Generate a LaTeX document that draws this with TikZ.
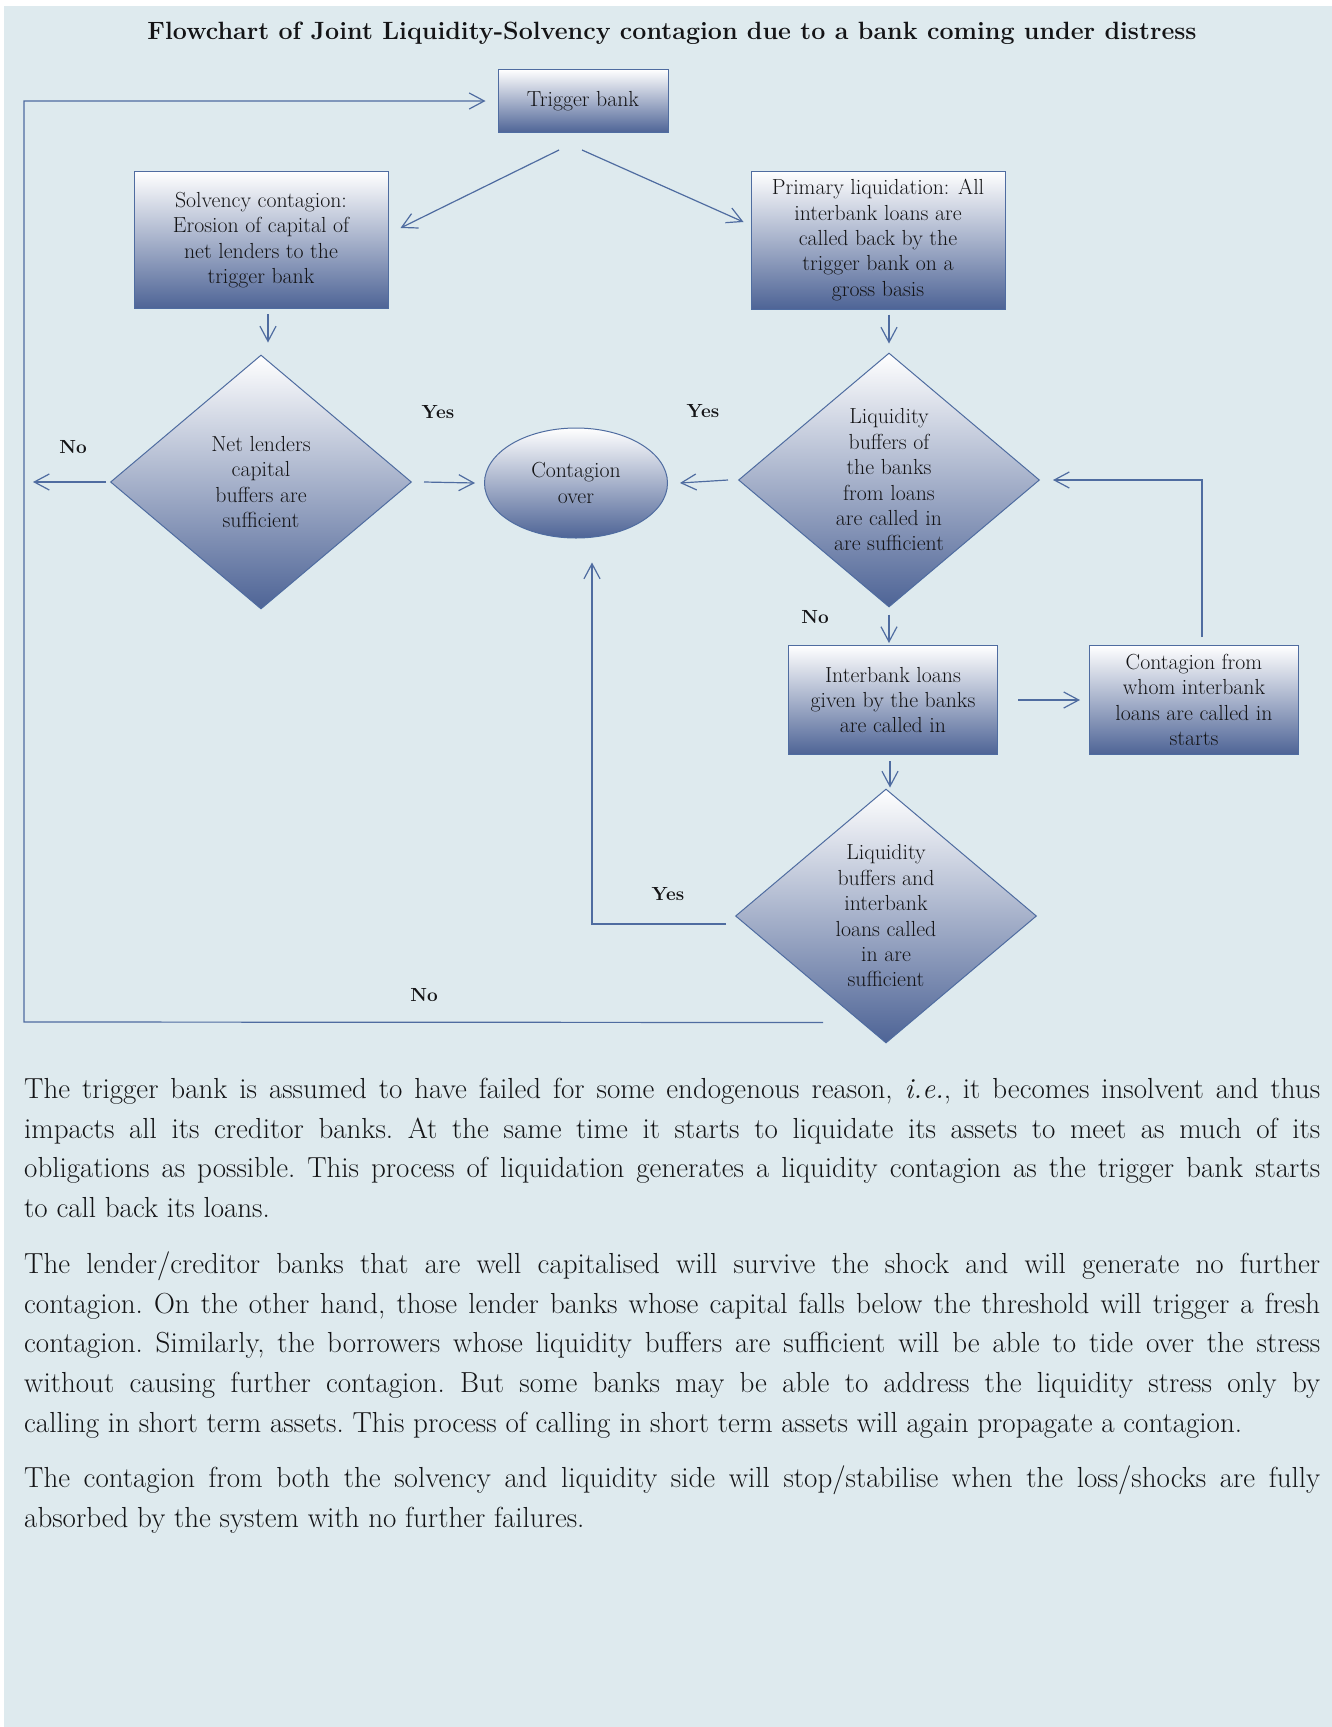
\documentclass[tikz,border=0pt]{standalone}
\usepackage{fontspec}
\usepackage{tikz}
\usetikzlibrary{positioning, shapes.geometric, arrows.meta}
\definecolor{PanelBlue}{RGB}{222, 234, 238}
\definecolor{LineBlue}{RGB}{79, 108, 160}
\definecolor{NodeBlue}{RGB}{78, 100, 150}
\definecolor{InkGray}{RGB}{20, 20, 22}

\begin{document}
\begin{tikzpicture}[
    x=1pt, y=-1pt,
    every node/.style={align=center, text=InkGray},
    nodetext/.style={font=\fontsize{21.8}{25.4}\selectfont},
    box/.style={nodetext, draw=LineBlue, line width=1pt, rectangle, top color=white, bottom color=NodeBlue, inner sep=4pt},
    decision/.style={nodetext, draw=LineBlue, line width=1pt, diamond, shape aspect=1.185, minimum width=301pt, minimum height=254pt, inner sep=0pt, top color=white, bottom color=NodeBlue},
    terminal/.style={nodetext, draw=LineBlue, line width=1pt, ellipse, minimum width=183pt, minimum height=110pt, inner sep=0pt, top color=white, bottom color=NodeBlue},
    flow/.style={draw=LineBlue, line width=1.2pt, -{Straight Barb[length=15pt, width=16pt]}},
    answer/.style={font=\bfseries\fontsize{19}{22}\selectfont}
  ]
    \useasboundingbox (0,0) rectangle (1332,1727);
    \fill[PanelBlue] (4,6) rectangle (1332,1727);

    \node[font=\bfseries\fontsize{25}{30}\selectfont] (title) at (672,33) {Flowchart of Joint Liquidity-Solvency contagion due to a bank coming under distress};

    % boxes and decisions
    \node[box, minimum width=170pt, minimum height=63pt] (trigger) at (583,101) {Trigger bank};
    \node[box, minimum width=254pt, minimum height=137pt] (solvency) at (261,240) {Solvency contagion:\\Erosion of capital of\\net lenders to the\\trigger bank};
    \node[box, minimum width=254pt, minimum height=138pt] (primary) at (878,240) {Primary liquidation: All\\interbank loans are\\called back by the\\trigger bank on a\\gross basis};
    \node[decision] (netcap) at (261,482) {Net lenders\\capital\\buffers are\\sufficient};
    \node[terminal] (over) at (576,483) {Contagion\\over};
    \node[decision] (liqbuf) at (889,480) {Liquidity\\buffers of\\the banks\\from loans\\are called in\\are sufficient};
    \node[box, minimum width=209pt, minimum height=109pt] (called) at (893,700) {Interbank loans\\given by the banks\\are called in};
    \node[box, minimum width=209pt, minimum height=109pt, right=91pt of called] (fresh) {Contagion from\\whom interbank\\loans are called in\\starts};
    \node[decision] (liqcall) at (886,916) {Liquidity\\buffers and\\interbank\\loans called\\in are\\sufficient};

    % yes / no labels
    \node[answer] (no1) at (73,447) {No};
    \node[answer] (yes1) at (438,412) {Yes};
    \node[answer] (yes2) at (703,411) {Yes};
    \node[answer] (no2) at (815,617) {No};
    \node[answer] (yes3) at (668,894) {Yes};
    \node[answer] (no3) at (424,995) {No};

    \coordinate (noend) at (33,482);
    \coordinate (loopstart) at ([xshift=-63pt,yshift=21pt]liqcall.south);
    \coordinate (loopcorner) at (24,1022);

    % connectors
    \draw[flow] ([xshift=-24pt,yshift=-17pt]trigger.south) -- ([xshift=12pt,yshift=12pt]solvency.east);
    \draw[flow] ([xshift=-1pt,yshift=-17pt]trigger.south) -- ([xshift=-7pt,yshift=18pt]primary.west);
    \draw[flow] ([xshift=7pt,yshift=-5pt]solvency.south) -- ([xshift=7pt,yshift=12pt]netcap.north);
    \draw[flow] ([xshift=11pt,yshift=-5pt]primary.south) -- ([yshift=9pt]liqbuf.north);
    \draw[flow] ([xshift=-4pt]netcap.west) -- (noend);
    \draw[flow] ([xshift=12pt]netcap.east) -- ([xshift=-9pt]over.west);
    \draw[flow] ([xshift=-10pt]liqbuf.west) -- ([xshift=12pt]over.east);
    \draw[flow] ([yshift=-7pt]liqbuf.south) -- ([xshift=-4pt,yshift=2pt]called.north);
    \draw[flow] ([xshift=20pt]called.east) -- ([xshift=-9pt]fresh.west);
    \draw[flow] ([xshift=8pt,yshift=8pt]fresh.north) |- ([xshift=13pt]liqbuf.east);
    \draw[flow] ([xshift=-3pt,yshift=-6pt]called.south) -- ([xshift=4pt,yshift=1pt]liqcall.north);
    \draw[flow] ([xshift=-9pt,yshift=-8pt]liqcall.west) -| ([xshift=16pt,yshift=-24pt]over.south);
    \draw[flow] (loopstart) -- (loopcorner) |- ([xshift=-12pt]trigger.west);

    % notes below the chart
    \node[anchor=north west, text width=1296pt, align=justify, inner sep=0pt, font=\fontsize{29}{39.7}\selectfont] (notes) at (24,1078) {%
      \setlength{\parskip}{16pt}\setlength{\parindent}{0pt}\frenchspacing
      The trigger bank is assumed to have failed for some endogenous reason, \textit{i.e.}, it becomes insolvent and thus\linebreak
      impacts all its creditor banks. At the same time it starts to liquidate its assets to meet as much of its\linebreak
      obligations as possible. This process of liquidation generates a liquidity contagion as the trigger bank starts\linebreak
      to call back its loans.\par
      The lender/creditor banks that are well capitalised will survive the shock and will generate no further\linebreak
      contagion. On the other hand, those lender banks whose capital falls below the threshold will trigger a fresh\linebreak
      contagion. Similarly, the borrowers whose liquidity buffers are sufficient will be able to tide over the stress\linebreak
      without causing further contagion. But some banks may be able to address the liquidity stress only by\linebreak
      calling in short term assets. This process of calling in short term assets will again propagate a contagion.\par
      The contagion from both the solvency and liquidity side will stop/stabilise when the loss/shocks are fully\linebreak
      absorbed by the system with no further failures.};
  \end{tikzpicture}
\end{document}
